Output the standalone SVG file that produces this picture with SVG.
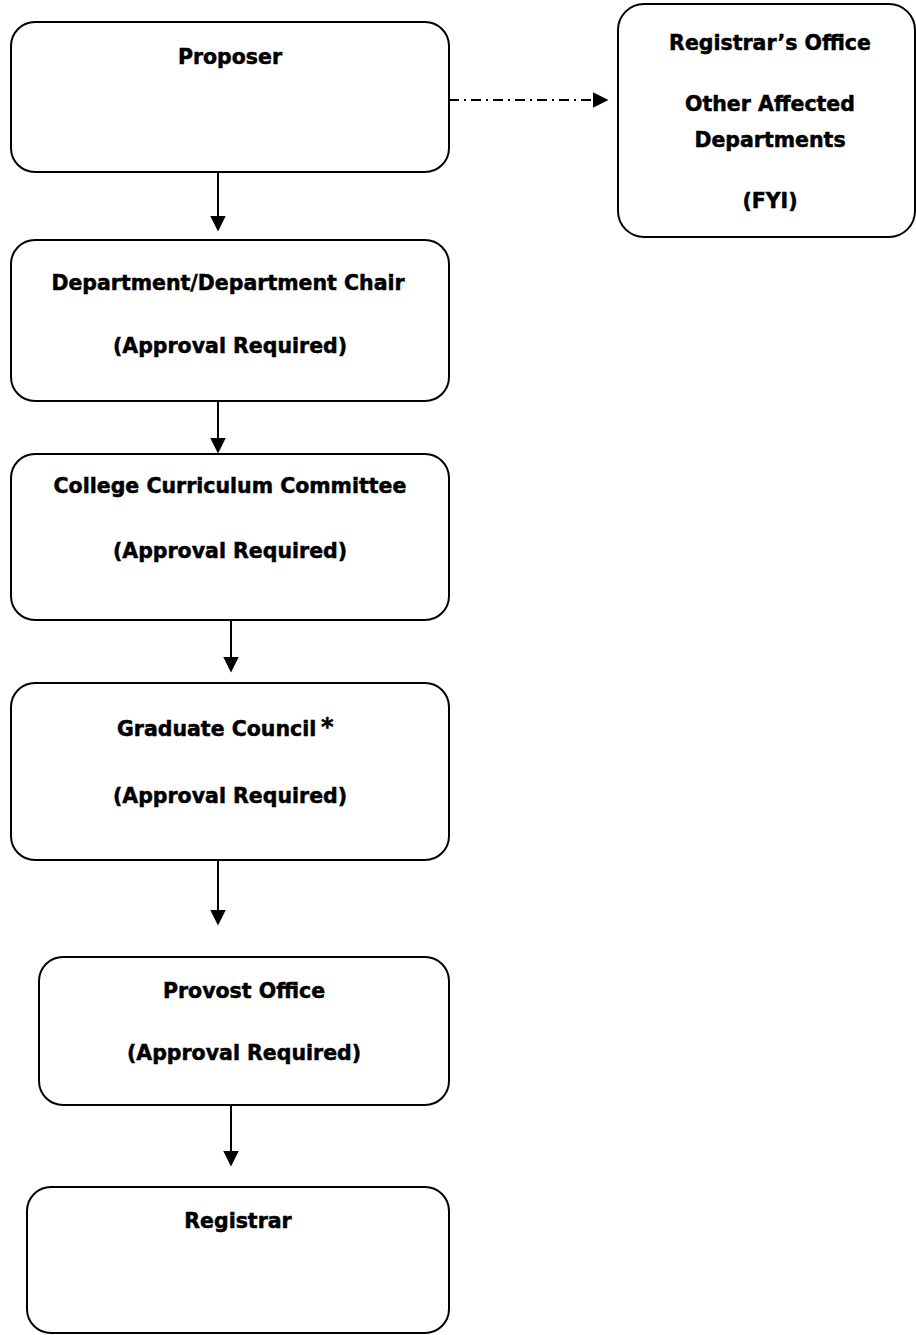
<svg xmlns="http://www.w3.org/2000/svg" width="916" height="1335" viewBox="0 0 916 1335">
<style>
.box{fill:#fff;stroke:#000;stroke-width:2}
.t{font-family:"DejaVu Sans","Verdana",sans-serif;font-weight:bold;font-size:20.5px;fill:#000;stroke:#000;stroke-width:0.5;text-anchor:middle}
.ts{font-family:"DejaVu Sans","Verdana",sans-serif;font-weight:bold;font-size:20.5px;fill:#000;stroke:#000;stroke-width:0.5}
.ln{stroke:#000;stroke-width:2;fill:none}
.dash{stroke-dasharray:10 5 2 5}
</style>
<defs>
<marker id="ah" markerUnits="userSpaceOnUse" markerWidth="16" markerHeight="16" viewBox="0 0 15 15" refX="7" refY="7.5" orient="auto">
<path d="M0,0 L15,7.5 L0,15 z" fill="#000"/>
</marker>
</defs>
<rect width="916" height="1335" fill="#fff"/>
<g id="connectors">
<line class="ln" x1="218" y1="172" x2="218" y2="223" marker-end="url(#ah)"/>
<line class="ln" x1="218" y1="401" x2="218" y2="445" marker-end="url(#ah)"/>
<line class="ln" x1="231" y1="620" x2="231" y2="664" marker-end="url(#ah)"/>
<line class="ln" x1="218" y1="860" x2="218" y2="917" marker-end="url(#ah)"/>
<line class="ln" x1="231" y1="1105" x2="231" y2="1158" marker-end="url(#ah)"/>
<line class="ln dash" x1="449" y1="100" x2="600" y2="100" marker-end="url(#ah)"/>
</g>
<g id="proposer">
<rect class="box" x="11" y="22" width="438" height="150" rx="24"/>
<text class="t" x="230" y="64">Proposer</text>
</g>
<g id="fyi">
<rect class="box" x="618" y="4" width="297" height="233" rx="26"/>
<text class="t" x="770" y="50">Registrar’s Office</text>
<text class="t" x="770" y="111">Other Affected</text>
<text class="t" x="770" y="147">Departments</text>
<text class="t" x="770" y="208">(FYI)</text>
</g>
<g id="dept">
<rect class="box" x="11" y="240" width="438" height="161" rx="24"/>
<text class="t" x="228" y="290">Department/Department Chair</text>
<text class="t" x="230" y="353">(Approval Required)</text>
</g>
<g id="college">
<rect class="box" x="11" y="454" width="438" height="166" rx="24"/>
<text class="t" x="230" y="493">College Curriculum Committee</text>
<text class="t" x="230" y="558">(Approval Required)</text>
</g>
<g id="graduate">
<rect class="box" x="11" y="683" width="438" height="177" rx="24"/>
<text class="ts" x="117" y="736">Graduate Council</text>
<text class="ts" x="321" y="735" style="font-size:24px">*</text>
<text class="t" x="230" y="803">(Approval Required)</text>
</g>
<g id="provost">
<rect class="box" x="39" y="957" width="410" height="148" rx="24"/>
<text class="t" x="244" y="998">Provost Office</text>
<text class="t" x="244" y="1060">(Approval Required)</text>
</g>
<g id="registrar">
<rect class="box" x="27" y="1187" width="422" height="146" rx="24"/>
<text class="t" x="238" y="1228">Registrar</text>
</g>
</svg>
